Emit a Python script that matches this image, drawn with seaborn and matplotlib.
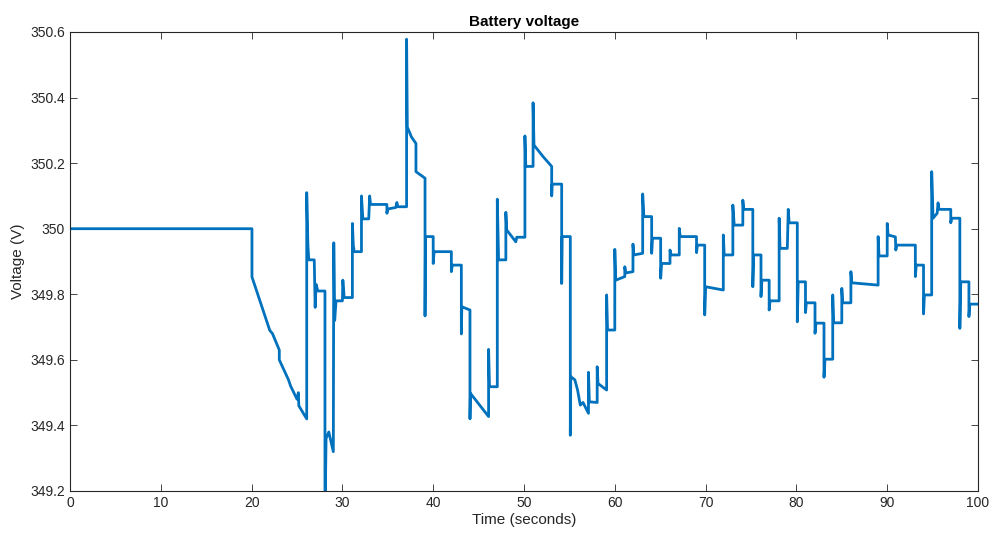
import numpy as np
import pandas as pd
import matplotlib
matplotlib.use("Agg")
import matplotlib.pyplot as plt
import seaborn as sns

# Time (s) and battery voltage (V)
time_s = [
    0, 20.04, 20.04, 22.0, 22.3, 23.05, 23.05, 24.05, 24.3, 25.0, 25.15, 25.2, 26.07,
    26.07, 26.2, 26.3, 26.9, 27.0, 27.1, 27.3, 28.08, 28.08, 28.2, 28.5, 29.0,
    29.05, 29.15, 29.3, 30.0, 30.05, 30.2, 31.1, 31.1, 31.2, 31.3, 32.1, 32.1, 32.25,
    32.9, 33.0, 33.1, 34.9, 34.9, 35.0, 35.9, 36.0, 36.1, 37.07, 37.07, 37.15, 37.6,
    38.1, 38.1, 39.1, 39.1, 39.15, 40.0, 40.0, 40.1, 42.0, 42.0, 42.1, 43.1, 43.1,
    43.15, 44.05, 44.05, 44.1, 46.1, 46.1, 46.2, 47.06, 47.06, 47.2, 48.0, 48.0, 48.1,
    49.1, 49.2, 50.1, 50.1, 50.2, 51.0, 51.0, 51.1, 52.1, 53.05, 53.05, 53.1, 54.15,
    54.15, 54.2, 55.1, 55.1, 55.15, 55.6, 55.9, 56.2, 56.5, 57.1, 57.1, 57.2, 58.06,
    58.06, 58.15, 59.1, 59.1, 59.2, 60.0, 60.0, 60.1, 61.1, 61.1, 61.2, 62.0, 62.0,
    62.1, 63.07, 63.07, 63.2, 64.06, 64.06, 64.15, 65.05, 65.05, 65.15, 66.08, 66.08,
    66.2, 67.1, 67.1, 67.2, 69.0, 69.0, 69.1, 69.9, 69.9, 70.0, 71.95, 71.95, 72.05,
    73.0, 73.0, 73.15, 74.1, 74.1, 74.2, 75.2, 75.2, 75.3, 76.1, 76.1, 76.2, 77.0,
    77.0, 77.1, 78.1, 78.1, 78.2, 79.0, 79.1, 79.2, 80.1, 80.1, 80.2, 81.0, 81.0,
    81.1, 82.05, 82.05, 82.15, 83.04, 83.04, 83.15, 84.0, 84.0, 84.1, 85.0, 85.0,
    85.1, 86.0, 86.0, 86.1, 89.0, 89.0, 89.1, 90.0, 90.0, 90.1, 90.9, 90.95, 91.05,
    93.1, 93.1, 93.2, 94.0, 94.0, 94.1, 94.9, 94.9, 95.05, 95.5, 95.6, 95.7, 97.0,
    97.0, 97.1, 98.0, 98.0, 98.1, 99.0, 99.0, 99.1, 100,
]
voltage_v = [
    350.0, 350.0, 349.853, 349.69, 349.68, 349.63, 349.60, 349.54, 349.52, 349.48, 349.50, 349.46, 349.42,
    350.11, 349.95, 349.905, 349.905, 349.76, 349.83, 349.81, 349.81, 349.10, 349.36, 349.38, 349.32,
    349.957, 349.72, 349.78, 349.78, 349.843, 349.79, 349.79, 350.016, 349.95, 349.93, 349.93, 350.1, 350.03,
    350.03, 350.1, 350.074, 350.074, 350.047, 350.06, 350.065, 350.08, 350.067, 350.067, 350.578, 350.31, 350.28,
    350.26, 350.174, 350.154, 349.734, 349.976, 349.976, 349.894, 349.93, 349.93, 349.869, 349.889, 349.889, 349.679,
    349.762, 349.752, 349.42, 349.498, 349.427, 349.632, 349.518, 349.518, 350.09, 349.905, 349.905, 350.05, 349.996,
    349.96, 349.974, 349.974, 350.283, 350.19, 350.19, 350.384, 350.255, 350.22, 350.19, 350.1, 350.136, 350.136,
    349.833, 349.976, 349.976, 349.37, 349.549, 349.539, 349.508, 349.462, 349.47, 349.437, 349.562, 349.472, 349.47,
    349.579, 349.528, 349.508, 349.798, 349.691, 349.691, 349.937, 349.843, 349.854, 349.884, 349.865, 349.869, 349.953,
    349.92, 349.925, 350.106, 350.037, 350.037, 349.925, 349.971, 349.971, 349.849, 349.894, 349.894, 349.935,
    349.92, 349.92, 350.001, 349.976, 349.976, 349.927, 349.95, 349.95, 349.737, 349.823, 349.813, 349.981, 349.92,
    349.92, 350.072, 350.011, 350.011, 350.087, 350.059, 350.059, 349.823, 349.92, 349.92, 349.793, 349.843, 349.843,
    349.752, 349.78, 349.78, 350.032, 349.94, 349.94, 350.059, 350.018, 350.018, 349.716, 349.838, 349.838, 349.744,
    349.774, 349.774, 349.681, 349.712, 349.712, 349.547, 349.602, 349.602, 349.798, 349.713, 349.713, 349.818,
    349.774, 349.774, 349.869, 349.835, 349.828, 349.976, 349.917, 349.917, 350.016, 349.981, 349.975, 349.935, 349.95,
    349.95, 349.854, 349.889, 349.889, 349.74, 349.798, 349.798, 350.174, 350.032, 350.047, 350.079, 350.059, 350.059,
    350.018, 350.032, 350.032, 349.696, 349.838, 349.838, 349.732, 349.77, 349.77,
]

x_ticks = [0, 10, 20, 30, 40, 50, 60, 70, 80, 90, 100]
y_ticks = [349.2, 349.4, 349.6, 349.8, 350.0, 350.2, 350.4, 350.6]
y_tick_labels = ["349.2", "349.4", "349.6", "349.8", "350", "350.2", "350.4", "350.6"]

sns.set_style("white")
plt.rcParams['font.family'] = ['Liberation Sans', 'DejaVu Sans']

df = pd.DataFrame({"t": time_s, "v": voltage_v})

fig = plt.figure(figsize=(9.92, 5.34), dpi=100)
ax = fig.add_axes([70/992, 1 - 491/534, (978 - 70)/992, (491 - 32)/534])
sns.lineplot(data=df, x="t", y="v", ax=ax, estimator=None, sort=False,
             color="#0072BD", linewidth=2.0)

ax.set_xlim(0, 100)
ax.set_ylim(349.2, 350.6)
ax.set_xticks(x_ticks)
ax.set_yticks(y_ticks)
ax.set_yticklabels(y_tick_labels)
ax.set_xlabel("Time (seconds)", fontsize=11, color="#262626", labelpad=2)
ax.set_ylabel("Voltage (V)", fontsize=11, color="#262626", labelpad=4)
ax.set_title("Battery voltage", fontsize=11, fontweight="bold", color="black", pad=4)
ax.tick_params(direction="in", length=5, width=0.6, colors="#262626",
               labelsize=10, top=True, right=True, bottom=True, left=True)
for s in ax.spines.values():
    s.set_visible(True)
    s.set_color("#262626")
    s.set_linewidth(0.8)

fig.savefig("out.png", dpi=100, facecolor="white")
